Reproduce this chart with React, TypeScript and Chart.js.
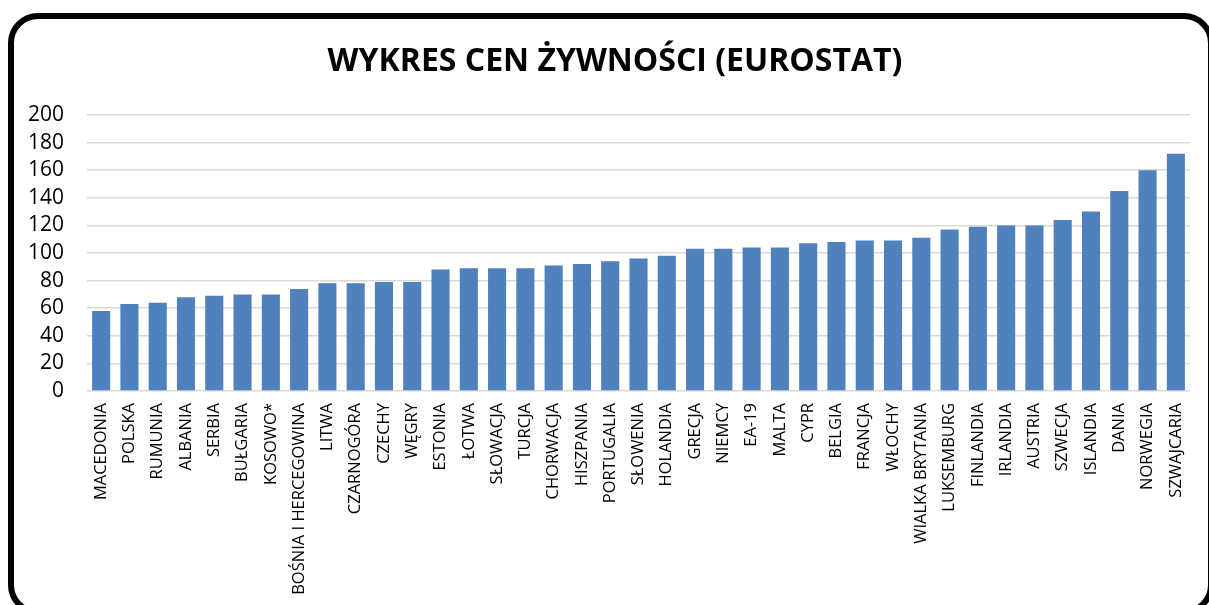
import React, { useEffect, useRef } from "react";
import { Chart, registerables } from "chart.js";

Chart.register(...registerables);

const TITLE = "WYKRES CEN ŻYWNOŚCI (EUROSTAT)";

const countries = [
  "MACEDONIA", "POLSKA", "RUMUNIA", "ALBANIA", "SERBIA", "BUŁGARIA", "KOSOWO*",
  "BOŚNIA I HERCEGOWINA", "LITWA", "CZARNOGÓRA", "CZECHY", "WĘGRY", "ESTONIA",
  "ŁOTWA", "SŁOWACJA", "TURCJA", "CHORWACJA", "HISZPANIA", "PORTUGALIA",
  "SŁOWENIA", "HOLANDIA", "GRECJA", "NIEMCY", "EA-19", "MALTA", "CYPR", "BELGIA",
  "FRANCJA", "WŁOCHY", "WIALKA BRYTANIA", "LUKSEMBURG", "FINLANDIA", "IRLANDIA",
  "AUSTRIA", "SZWECJA", "ISLANDIA", "DANIA", "NORWEGIA", "SZWAJCARIA",
];

const priceLevels = [
  58, 63, 64, 68, 69, 70, 70, 74, 78, 78, 79, 79, 88, 89, 89, 89, 91, 92, 94,
  96, 98, 103, 103, 104, 104, 107, 108, 109, 109, 111, 117, 119, 120, 120, 124,
  130, 145, 160, 172,
];

const yMin = 0;
const yMax = 200;
const yStep = 20;

export default function App() {
  const canvasRef = useRef<HTMLCanvasElement | null>(null);

  useEffect(() => {
    if (!canvasRef.current) return;
    const chart = new Chart(canvasRef.current, {
      type: "bar",
      data: {
        labels: countries,
        datasets: [
          {
            data: priceLevels,
            backgroundColor: "#4f81bd",
            borderWidth: 0,
            barPercentage: 0.64,
            categoryPercentage: 1,
          },
        ],
      },
      options: {
        responsive: true,
        maintainAspectRatio: false,
        animation: false,
        layout: { padding: { top: 0, left: 40, right: 19, bottom: 0 } },
        plugins: {
          legend: { display: false },
          tooltip: { enabled: false },
          title: {
            display: true,
            text: TITLE,
            color: "#000",
            font: { family: "'Open Sans'", size: 32, weight: "bold", lineHeight: 1.2 },
            padding: { top: 43, bottom: 33.6 },
          },
        },
        scales: {
          x: {
            grid: { display: false, drawTicks: false },
            border: { display: false },
            afterFit: (scale: any) => {
              scale.height = 214;
            },
            ticks: {
              autoSkip: false,
              maxRotation: 90,
              minRotation: 90,
              padding: 12,
              color: "#000",
              font: { family: "'Open Sans'", size: 16.5 },
            },
          },
          y: {
            min: yMin,
            max: yMax,
            grid: { color: "#d9d9d9", lineWidth: 1.5, drawTicks: false },
            border: { display: false },
            afterFit: (scale: any) => {
              scale.width = 47;
              scale._computeLabelArea = () => undefined;
            },
            ticks: {
              stepSize: yStep,
              autoSkip: false,
              padding: 23,
              color: "#000",
              font: { family: "'Open Sans'", size: 21 },
            },
          },
        },
      },
    });
    return () => chart.destroy();
  }, []);

  return (
    <div
      style={{
        position: "fixed",
        left: 0,
        top: 0,
        width: 1209,
        height: 605,
        overflow: "hidden",
        background: "#fff",
      }}
    >
      <div style={{ position: "absolute", left: 0, top: 0, width: 1209, height: 605 }}>
        <canvas ref={canvasRef} />
      </div>
      <div
        style={{
          position: "absolute",
          left: 8,
          top: 13,
          width: 1206,
          height: 602,
          boxSizing: "border-box",
          border: "6px solid #000",
          borderRadius: 30,
          pointerEvents: "none",
        }}
      />
    </div>
  );
}
